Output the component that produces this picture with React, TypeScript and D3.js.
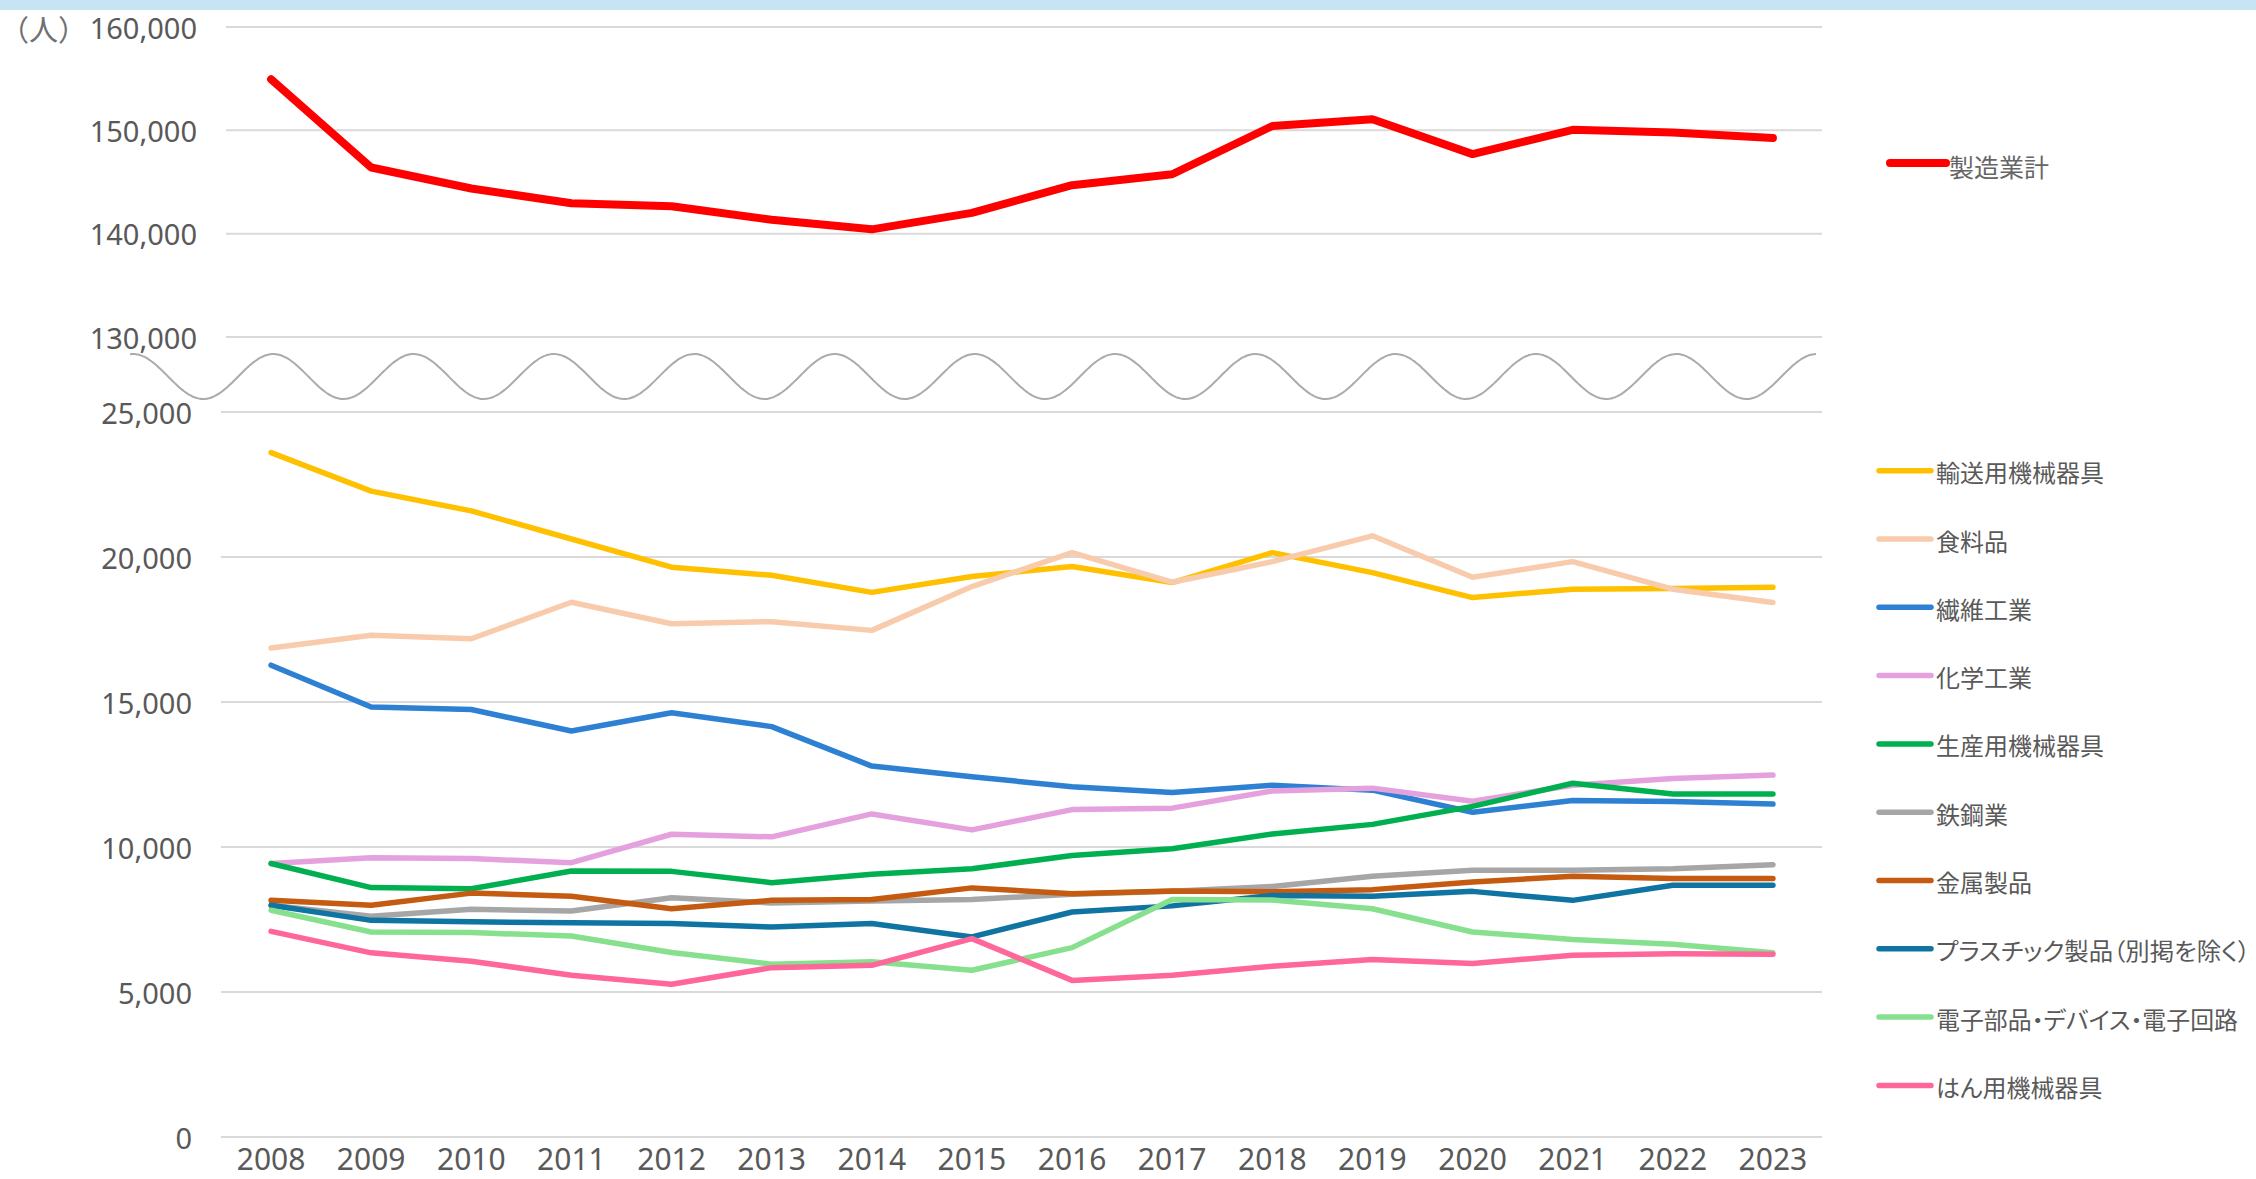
import React from "react";
import * as d3 from "d3";

// data (人)
const years = ["2008", "2009", "2010", "2011", "2012", "2013", "2014", "2015",
  "2016", "2017", "2018", "2019", "2020", "2021", "2022", "2023"];

const totalName = "製造業計";
const totalValues = [154950, 146400, 144370, 142950, 142650, 141350, 140420, 142010,
  144690, 145750, 150420, 151070, 147700, 150050, 149800, 149250];

const seriesNames = [
  "輸送用機械器具",
  "食料品",
  "繊維工業",
  "化学工業",
  "生産用機械器具",
  "鉄鋼業",
  "金属製品",
  "プラスチック製品（別掲を除く）",
  "電子部品・デバイス・電子回路",
  "はん用機械器具",
];

const transport = [23600, 22270, 21590, 20620, 19650, 19370, 18780, 19330, 19670, 19120, 20150, 19460, 18600, 18890, 18910, 18960];
const food = [16860, 17300, 17180, 18440, 17700, 17770, 17470, 18980, 20150, 19130, 19840, 20730, 19300, 19840, 18890, 18430];
const textile = [16270, 14830, 14740, 14000, 14630, 14150, 12790, 12420, 12080, 11880, 12130, 11960, 11200, 11600, 11570, 11480];
const chemical = [9430, 9630, 9600, 9460, 10440, 10350, 11140, 10590, 11290, 11340, 11930, 12030, 11580, 12130, 12360, 12480];
const production = [9430, 8600, 8560, 9170, 9160, 8770, 9060, 9250, 9710, 9940, 10450, 10780, 11400, 12200, 11830, 11830];
const steel = [7990, 7610, 7850, 7790, 8250, 8070, 8140, 8190, 8370, 8470, 8640, 8990, 9200, 9200, 9250, 9390];
const metal = [8160, 7990, 8410, 8300, 7870, 8160, 8190, 8590, 8390, 8480, 8460, 8530, 8790, 8990, 8910, 8910];
const plastic = [7990, 7470, 7420, 7390, 7360, 7240, 7360, 6900, 7760, 7970, 8330, 8300, 8470, 8160, 8680, 8680];
const electronic = [7820, 7070, 7050, 6930, 6360, 5960, 6040, 5750, 6530, 8190, 8170, 7870, 7070, 6810, 6650, 6350];
const general = [7090, 6350, 6060, 5580, 5270, 5840, 5920, 6840, 5400, 5580, 5890, 6120, 5980, 6270, 6320, 6300];

const seriesValues = [transport, food, textile, chemical, production, steel, metal, plastic, electronic, general];

const topTicks = [130000, 140000, 150000, 160000];
const bottomTicks = [0, 5000, 10000, 15000, 20000, 25000];

const colors = ["#FFC000", "#F8CBAD", "#2E80D2", "#E4A1DD", "#00B050",
  "#A6A6A6", "#C55A11", "#0F74A1", "#86E08E", "#FF6699"];

const W = 2256;
const H = 1179;
const textColor = "#595959";
const gridColor = "#D9D9D9";
const numFont = "'Noto Sans', 'DejaVu Sans', sans-serif";
const jpFont = "'Noto Sans CJK JP', sans-serif";

export default function App() {
  const x = d3.scaleBand<string>().domain(years).range([221, 1823]).padding(0);
  const cx = (y: string) => x(y)! + x.bandwidth() / 2;
  const yTop = d3.scaleLinear().domain([130000, 160000]).range([337, 27]);
  const yBot = d3.scaleLinear().domain([0, 25000]).range([1137, 412]);
  const fmt = d3.format(",");

  const topLine = d3.line<number>().x((_, i) => cx(years[i])).y((v) => yTop(v));
  const botLine = d3.line<number>().x((_, i) => cx(years[i])).y((v) => yBot(v));

  // break mark between the two panels
  const wavePts: [number, number][] = d3.range(130, 1818, 2).map((px) => [
    px,
    376.5 - 22.5 * Math.cos((2 * Math.PI * (px - 133)) / 140.3),
  ]);
  const wave = d3.line().curve(d3.curveBasis)(wavePts) || "";

  const legendY = (i: number) => 470.7 + i * 68.3;
  // the two long legend labels are set tighter in the original
  const fitWidth: Record<string, number> = {
    "プラスチック製品（別掲を除く）": 314,
    "電子部品・デバイス・電子回路": 302,
  };

  return (
    <svg width={W} height={H} style={{ position: "absolute", left: 0, top: 0, background: "#fff" }}>
      <rect x={0} y={0} width={W} height={10} fill="#C6E4F3" />

      {topTicks.map((t) => (
        <g key={t}>
          <line x1={226} x2={1822} y1={yTop(t)} y2={yTop(t)} stroke={gridColor} strokeWidth={2} />
          <text x={197} y={yTop(t)} textAnchor="end" dominantBaseline="central"
            fontFamily={numFont} fontSize={29} fill={textColor}>{fmt(t)}</text>
        </g>
      ))}
      {bottomTicks.map((t) => (
        <g key={t}>
          <line x1={221} x2={1822} y1={yBot(t)} y2={yBot(t)} stroke={gridColor} strokeWidth={2} />
          <text x={192} y={yBot(t)} textAnchor="end" dominantBaseline="central"
            fontFamily={numFont} fontSize={29} fill={textColor}>{fmt(t)}</text>
        </g>
      ))}

      <text x={0} y={28} dominantBaseline="central" fontFamily={jpFont} fontSize={29} fill="#707070">（人）</text>

      <path d={wave} fill="none" stroke="#ABABAB" strokeWidth={2} />

      {years.map((yr) => (
        <text key={yr} x={cx(yr)} y={1170} textAnchor="middle" fontFamily={numFont}
          fontSize={30} fill={textColor}>{yr}</text>
      ))}

      <path d={topLine(totalValues) || ""} fill="none" stroke="#FF0000" strokeWidth={8}
        strokeLinejoin="round" strokeLinecap="round" />
      {seriesValues.map((vals, i) => (
        <path key={seriesNames[i]} d={botLine(vals) || ""} fill="none" stroke={colors[i]}
          strokeWidth={5.5} strokeLinejoin="round" strokeLinecap="round" />
      ))}

      <line x1={1890} x2={1946} y1={163} y2={163} stroke="#FF0000" strokeWidth={8} strokeLinecap="round" />
      <text x={1949} y={166} dominantBaseline="central" fontFamily={jpFont} fontSize={25} fill="#666">{totalName}</text>

      {seriesNames.map((name, i) => (
        <g key={name}>
          <line x1={1879} x2={1931} y1={legendY(i)} y2={legendY(i)} stroke={colors[i]}
            strokeWidth={5.5} strokeLinecap="round" />
          <text x={1936} y={legendY(i) + 1} dominantBaseline="central" fontFamily={jpFont}
            fontSize={24} fill={textColor} style={{ fontFeatureSettings: '"palt"' }}
            textLength={fitWidth[name]} lengthAdjust={fitWidth[name] ? "spacingAndGlyphs" : undefined}>{name}</text>
        </g>
      ))}
    </svg>
  );
}
